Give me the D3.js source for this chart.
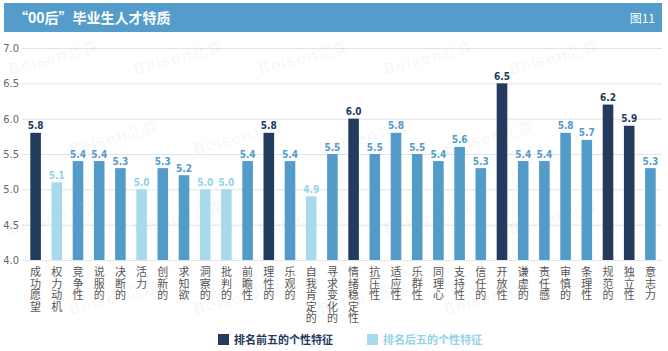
<!DOCTYPE html>
<html>
<head>
<meta charset="utf-8">
<script src="https://cdn.jsdelivr.net/npm/d3@7"></script>
<style>
  body { margin: 0; background: #fff; }
  svg { display: block; }
</style>
</head>
<body>
<div id="chart"></div>
<script>
const categories = ["成功愿望", "权力动机", "竞争性", "说服的", "决断的", "活力", "创新的", "求知欲", "洞察的", "批判的",
    "前瞻性", "理性的", "乐观的", "自我肯定的", "寻求变化的", "情绪稳定性", "抗压性", "适应性", "乐群性", "同理心",
    "支持性", "信任的", "开放性", "谦虚的", "责任感", "审慎的", "条理性", "规范的", "独立性", "意志力"];
const values = [5.8, 5.1, 5.4, 5.4, 5.3, 5.0, 5.3, 5.2, 5.0, 5.0,
    5.4, 5.8, 5.4, 4.9, 5.5, 6.0, 5.5, 5.8, 5.5, 5.4,
    5.6, 5.3, 6.5, 5.4, 5.4, 5.8, 5.7, 6.2, 5.9, 5.3];
// group: top = 排名前五, bottom = 排名后五, other
const groups = ["top", "bottom", "other", "other", "other", "bottom", "other", "other", "bottom", "bottom",
    "other", "top", "other", "bottom", "other", "top", "other", "other", "other", "other",
    "other", "other", "top", "other", "other", "other", "other", "top", "top", "other"];
const yTicks = [4.0, 4.5, 5.0, 5.5, 6.0, 6.5, 7.0];
const legendItems = [{key: "top", label: "排名前五的个性特征"}, {key: "bottom", label: "排名后五的个性特征"}];

const width = 668, height = 351;
const barColor = {top: "#233b5e", bottom: "#a6dbeb", other: "#539bc9"};
const labelColor = {top: "#233b5e", bottom: "#94d2e8", other: "#539bc9"};

const svg = d3.select("#chart").append("svg")
    .attr("width", width)
    .attr("height", height);

// header bar
svg.append("rect")
    .attr("x", 4).attr("y", 3)
    .attr("width", 658).attr("height", 29)
    .attr("fill", "#549cc9");
svg.append("text")
    .attr("x", 14).attr("y", 23)
    .attr("fill", "#fff")
    .style("font", "bold 14px 'Noto Sans CJK SC'")
    .text("“00后”毕业生人才特质");
svg.append("text")
    .attr("x", 655).attr("y", 22.5)
    .attr("text-anchor", "end")
    .attr("fill", "#fff")
    .style("font", "12px 'Noto Sans CJK SC'")
    .text("图11");

// scales
let x = d3.scaleBand()
    .domain(categories)
    .range([25, 661])
    .paddingInner(0.5)
    .paddingOuter(0.25);
let y = d3.scaleLinear()
    .domain([4, 7])
    .range([260, 48]);

// gridlines + y labels
let yAxis = d3.axisLeft(y)
    .tickValues(yTicks)
    .tickFormat(d3.format(".1f"))
    .tickSize(-(662 - 22))
    .tickPadding(3);
let yAxisGroup = svg.append("g")
    .attr("transform", "translate(22,0)")
    .call(yAxis);
yAxisGroup.select(".domain").remove();
yAxisGroup.selectAll(".tick line").attr("stroke", "#e3e3e3");
yAxisGroup.selectAll(".tick text")
    .attr("fill", "#666")
    .style("font", "11px 'DejaVu Sans Condensed'");

// faint watermark, kept inside the frame
const wm = svg.append("g").attr("fill", "#000").attr("fill-opacity", 0.03)
    .style("font", "bold 16px 'DejaVu Sans'");
for (let r = 0; r < 4; r++) {
    for (let c = 0; c < 5; c++) {
        const wx = c * 125 + (r % 2) * 60 + 10, wy = r * 80 + 75;
        if (wx > 555) continue;
        wm.append("text")
            .attr("transform", `translate(${wx},${wy}) rotate(-15)`)
            .text("Beisen北森");
    }
}

// bars
svg.selectAll(".bar")
    .data(categories)
    .enter().append("rect")
    .attr("class", "bar")
    .attr("x", d => x(d))
    .attr("y", (d, i) => y(values[i]))
    .attr("width", x.bandwidth())
    .attr("height", (d, i) => y(4) - y(values[i]))
    .attr("fill", (d, i) => barColor[groups[i]]);

// value labels
svg.selectAll(".val")
    .data(categories)
    .enter().append("text")
    .attr("class", "val")
    .attr("x", d => x(d) + x.bandwidth() / 2)
    .attr("y", (d, i) => y(values[i]) - 3.5)
    .attr("text-anchor", "middle")
    .attr("fill", (d, i) => labelColor[groups[i]])
    .style("font", "bold 10px 'DejaVu Sans Condensed'")
    .text((d, i) => d3.format(".1f")(values[i]));

// category labels, one character per line
const catLabels = svg.selectAll(".cat")
    .data(categories)
    .enter().append("text")
    .attr("class", "cat")
    .attr("text-anchor", "middle")
    .attr("fill", "#555")
    .style("font", "11px 'Noto Sans CJK SC'");
catLabels.each(function (d) {
    const cx = x(d) + x.bandwidth() / 2;
    d3.select(this).selectAll("tspan")
        .data(Array.from(d))
        .enter().append("tspan")
        .attr("x", cx)
        .attr("y", (ch, j) => 276 + j * 11.6)
        .text(ch => ch);
});

// legend
const legendX = [218, 367];
legendItems.forEach((item, i) => {
    const g = svg.append("g").attr("transform", `translate(${legendX[i]},334)`);
    g.append("rect")
        .attr("width", 11).attr("height", 11)
        .attr("fill", barColor[item.key]);
    g.append("text")
        .attr("x", 16).attr("y", 10)
        .attr("fill", labelColor[item.key])
        .style("font", "bold 11px 'Noto Sans CJK SC'")
        .text(item.label);
});
</script>
</body>
</html>
